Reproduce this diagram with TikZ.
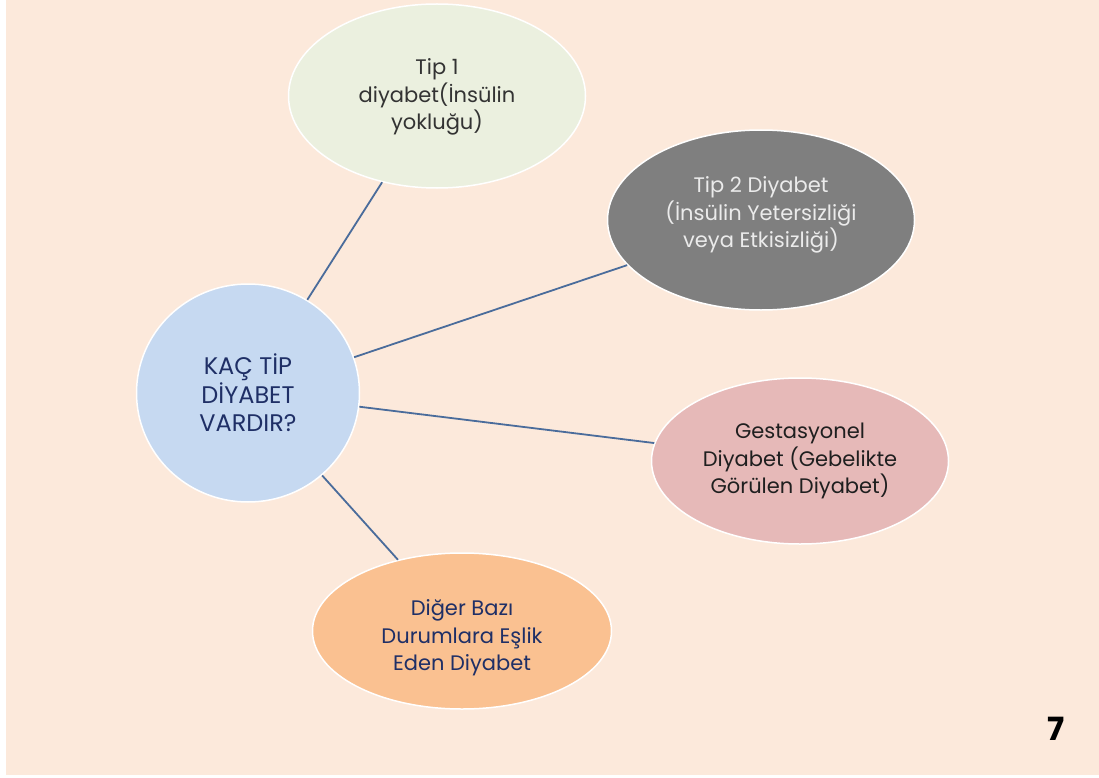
\documentclass[tikz,border=0pt]{standalone}
\usepackage{fontspec}
\setmainfont{Poppins}
\usetikzlibrary{shapes.geometric}
\definecolor{bgpeach}{HTML}{FCE9DB}
\definecolor{linkblue}{HTML}{4A6C9B}
\definecolor{fillA}{HTML}{EBF0DF}
\definecolor{fillB}{HTML}{7F7F7F}
\definecolor{fillC}{HTML}{C6D9F1}
\definecolor{fillD}{HTML}{E6B9B8}
\definecolor{fillE}{HTML}{FAC191}
\definecolor{navy}{HTML}{1F2F66}
\tikzset{
  blob/.style={ellipse, draw=white, line width=1.5pt, inner sep=0pt},
  blobtext/.style={align=center, inner sep=0pt, font=\fontsize{21}{27.5}\selectfont},
  link/.style={draw=linkblue, line width=1.8pt}
}
\begin{document}
\begin{tikzpicture}[x=1pt,y=-1pt]
\useasboundingbox (0,0) rectangle (1099,778);
\fill[white] (0,0) rectangle (1099,778);
\fill[bgpeach] (6,0) rectangle (1099,775);
\node[blob, fill=fillA, minimum width=297pt, minimum height=184pt,
  label={[blobtext, text=black!80, yshift=-1pt]center:Tip 1\\diyabet(İnsülin\\yokluğu)}] (t1) at (437,96) {};
\node[blob, fill=fillB, minimum width=307pt, minimum height=180pt,
  label={[blobtext, text=white!92!black, yshift=5pt]center:Tip 2 Diyabet\\(İnsülin Yetersizliği\\veya Etkisizliği)}] (t2) at (761,220) {};
\node[blob, fill=fillC, minimum width=223pt, minimum height=218pt,
  label={[blobtext, text=navy, font=\fontsize{24}{28.5}\selectfont]center:KAÇ TİP\\DİYABET\\VARDIR?}] (c) at (248,393) {};
\node[blob, fill=fillD, minimum width=297pt, minimum height=166pt,
  label={[blobtext, text=black!88]center:Gestasyonel\\Diyabet (Gebelikte\\Görülen Diyabet)}] (g) at (800,461) {};
\node[blob, fill=fillE, minimum width=299pt, minimum height=156pt,
  label={[blobtext, text=navy, yshift=-7pt]center:Diğer Bazı\\Durumlara Eşlik\\Eden Diyabet}] (d) at (462,631) {};
\draw[link] (c) -- (t1);
\draw[link] (c) -- (t2);
\draw[link] (c) -- (g);
\draw[link] (c) -- (d);
\node[font=\fontsize{32}{32}\selectfont\bfseries] (num) at (1056,729) {7};
\end{tikzpicture}
\end{document}
